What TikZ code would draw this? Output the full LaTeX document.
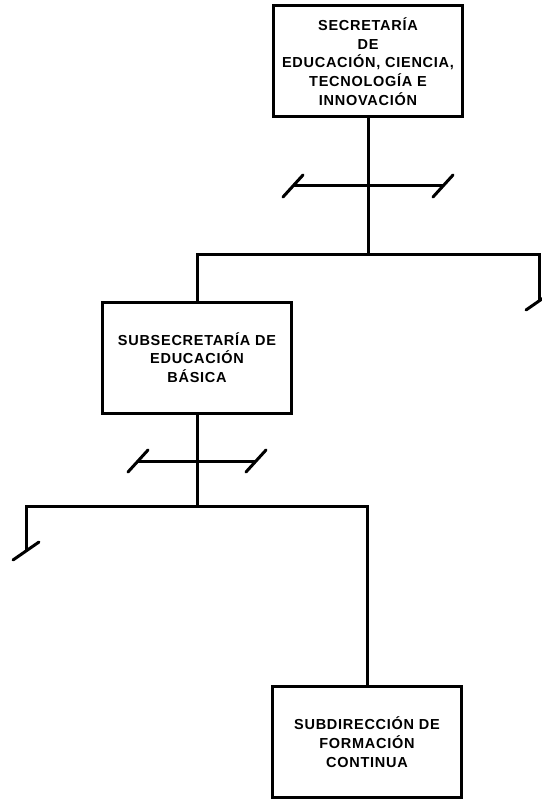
\documentclass[tikz,border=0pt]{standalone}
\usepackage{fontspec}
\newfontfamily\orgfont{Liberation Sans}[LetterSpace=5]
\usetikzlibrary{positioning}

\begin{document}
\begin{tikzpicture}[x=1pt, y=-1pt, line width=3pt,
  unit/.style={draw, minimum width=189pt, minimum height=111pt, align=center, inner sep=0pt,
    font=\orgfont\bfseries\fontsize{14.5}{18.8}\selectfont},
  tick/.style={line cap=round}]
\useasboundingbox (0,0) rectangle (541,799);
% units
\node[unit] (sec) at (368,61.5) {SECRETARÍA\\DE\\EDUCACIÓN, CIENCIA,\\TECNOLOGÍA E\\INNOVACIÓN};
\node[unit] (sub) at (197,357.5) {SUBSECRETARÍA DE\\EDUCACIÓN\\BÁSICA};
\node[unit] (subd) at (367,742) {SUBDIRECCIÓN DE\\FORMACIÓN\\CONTINUA};
% junctions
\coordinate (j1) at (368,255);
\coordinate (l1) at (197,255);
\coordinate (r1) at (539,255);
\coordinate (r1e) at (539,301);
\coordinate (c1l) at (293,186);
\coordinate (c1r) at (443,186);
\coordinate (j2) at (197,506);
\coordinate (l2) at (26,506);
\coordinate (l2e) at (26,551);
\coordinate (r2) at (367,506);
\coordinate (c2l) at (138,461);
\coordinate (c2r) at (256,461);
% lines
\draw (sec.south) -- (j1);
\draw (sub.north) -- (l1) -- (r1) -- (r1e);
\draw (c1l) -- (c1r);
\draw (sub.south) -- (j2);
\draw (l2e) -- (l2) -- (r2) -- (subd.north);
\draw (c2l) -- (c2r);
\foreach \c in {c1l,c1r,c2l,c2r}
  \draw[tick] ([shift={(-10,11)}]\c) -- ([shift={(10,-11)}]\c);
\foreach \c in {r1e,l2e}
  \draw[tick] ([shift={(-13,9)}]\c) -- ([shift={(13,-9)}]\c);
\end{tikzpicture}
\end{document}
